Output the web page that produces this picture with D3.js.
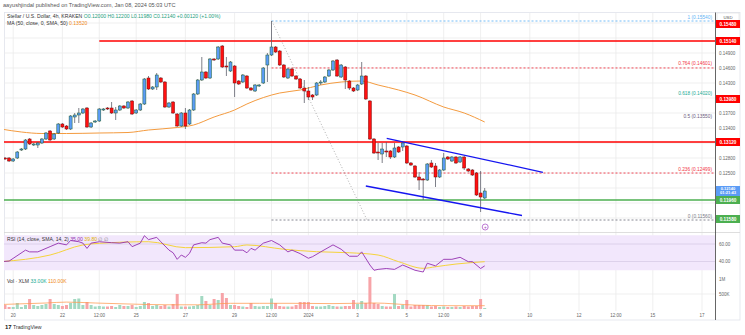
<!DOCTYPE html>
<html><head><meta charset="utf-8">
<script src="https://cdn.jsdelivr.net/npm/d3@7/dist/d3.min.js"></script>
<style>html,body{margin:0;padding:0;background:#fff;overflow:hidden}svg{display:block}</style>
</head><body><svg id="chart" width="745" height="335"></svg>
<script>
// ---------- DATA (4h candles, index 0 = Dec 19 2023 16:00 UTC) ----------
const opens = [0.1280,0.1280,0.1274,0.1280,0.1296,0.1298,0.1318,0.1306,0.1306,0.1310,
 0.1318,0.1334,0.1318,0.1330,0.1348,0.1344,0.1338,0.1362,0.1366,0.1370,
 0.1380,0.1342,0.1352,0.1354,0.1376,0.1380,0.1380,0.1370,0.1376,0.1384,
 0.1380,0.1394,0.1370,0.1376,0.1388,0.1440,0.1418,0.1422,0.1440,0.1432,
 0.1382,0.1392,0.1368,0.1344,0.1370,0.1348,0.1376,0.1408,0.1436,0.1452,
 0.1440,0.1478,0.1478,0.1504,0.1464,0.1454,0.1464,0.1434,0.1432,0.1444,
 0.1420,0.1414,0.1424,0.1430,0.1466,0.1486,0.1502,0.1494,0.1466,0.1440,
 0.1458,0.1444,0.1438,0.1420,0.1414,0.1406,0.1406,0.1430,0.1432,0.1444,
 0.1456,0.1476,0.1442,0.1462,0.1434,0.1420,0.1416,0.1428,0.1444,0.1394,
 0.1318,0.1292,0.1288,0.1294,0.1294,0.1282,0.1302,0.1302,0.1304,0.1270,
 0.1264,0.1242,0.1238,0.1236,0.1270,0.1264,0.1242,0.1256,0.1282,0.1274,
 0.1282,0.1272,0.1282,0.1258,0.1256,0.1250,0.1210,0.1200];
const highs = [0.1282,0.1282,0.1280,0.1294,0.1300,0.1318,0.1320,0.1310,0.1312,0.1320,
 0.1332,0.1336,0.1330,0.1350,0.1350,0.1346,0.1366,0.1370,0.1380,0.1380,
 0.1382,0.1352,0.1356,0.1380,0.1380,0.1382,0.1392,0.1382,0.1386,0.1386,
 0.1394,0.1396,0.1378,0.1390,0.1440,0.1444,0.1424,0.1450,0.1442,0.1434,
 0.1392,0.1394,0.1370,0.1372,0.1380,0.1378,0.1410,0.1438,0.1482,0.1454,
 0.1480,0.1480,0.1504,0.1506,0.1482,0.1474,0.1466,0.1436,0.1448,0.1446,
 0.1422,0.1428,0.1428,0.1462,0.1490,0.1554,0.1504,0.1496,0.1468,0.1460,
 0.1460,0.1446,0.1440,0.1436,0.1422,0.1408,0.1432,0.1436,0.1444,0.1458,
 0.1476,0.1478,0.1468,0.1464,0.1436,0.1422,0.1428,0.1472,0.1446,0.1396,
 0.1320,0.1310,0.1310,0.1312,0.1296,0.1310,0.1304,0.1312,0.1306,0.1272,
 0.1266,0.1252,0.1240,0.1270,0.1276,0.1270,0.1258,0.1290,0.1284,0.1284,
 0.1284,0.1284,0.1284,0.1260,0.1258,0.1252,0.1254,0.1220];
const lows = [0.1276,0.1272,0.1272,0.1278,0.1294,0.1296,0.1306,0.1304,0.1300,0.1308,
 0.1316,0.1314,0.1316,0.1328,0.1340,0.1336,0.1336,0.1350,0.1350,0.1368,
 0.1340,0.1340,0.1350,0.1352,0.1374,0.1376,0.1368,0.1356,0.1374,0.1378,
 0.1378,0.1366,0.1368,0.1374,0.1386,0.1416,0.1416,0.1416,0.1430,0.1380,
 0.1380,0.1368,0.1342,0.1342,0.1338,0.1346,0.1374,0.1406,0.1434,0.1438,
 0.1438,0.1474,0.1476,0.1460,0.1444,0.1452,0.1402,0.1426,0.1430,0.1418,
 0.1414,0.1412,0.1422,0.1428,0.1432,0.1484,0.1490,0.1464,0.1440,0.1438,
 0.1442,0.1436,0.1418,0.1390,0.1396,0.1396,0.1404,0.1426,0.1430,0.1442,
 0.1454,0.1442,0.1440,0.1418,0.1416,0.1412,0.1414,0.1426,0.1396,0.1316,
 0.1288,0.1276,0.1270,0.1282,0.1278,0.1280,0.1290,0.1294,0.1268,0.1264,
 0.1240,0.1216,0.1196,0.1234,0.1260,0.1222,0.1240,0.1254,0.1276,0.1272,
 0.1268,0.1270,0.1256,0.1252,0.1244,0.1204,0.1172,0.1198];
const closes = [0.1278,0.1274,0.1278,0.1292,0.1298,0.1316,0.1308,0.1308,0.1310,0.1318,
 0.1330,0.1316,0.1328,0.1348,0.1342,0.1338,0.1364,0.1366,0.1370,0.1378,
 0.1342,0.1350,0.1354,0.1378,0.1378,0.1378,0.1370,0.1376,0.1384,0.1380,
 0.1392,0.1368,0.1376,0.1388,0.1438,0.1418,0.1422,0.1446,0.1432,0.1382,
 0.1390,0.1370,0.1344,0.1370,0.1344,0.1376,0.1408,0.1436,0.1452,0.1440,
 0.1478,0.1476,0.1502,0.1462,0.1462,0.1472,0.1430,0.1428,0.1446,0.1420,
 0.1416,0.1426,0.1426,0.1460,0.1486,0.1502,0.1492,0.1466,0.1442,0.1458,
 0.1444,0.1438,0.1420,0.1414,0.1402,0.1402,0.1430,0.1432,0.1442,0.1456,
 0.1474,0.1444,0.1466,0.1436,0.1420,0.1414,0.1426,0.1444,0.1398,0.1318,
 0.1290,0.1290,0.1298,0.1292,0.1282,0.1300,0.1292,0.1310,0.1270,0.1266,
 0.1242,0.1236,0.1236,0.1268,0.1262,0.1242,0.1256,0.1280,0.1278,0.1282,
 0.1270,0.1282,0.1260,0.1254,0.1246,0.1206,0.1202,0.1214];
const volumesK = [133,67,67,200,67,133,333,133,100,133,
 167,333,167,133,100,133,200,333,350,133,
 233,133,83,100,83,83,100,67,133,100,
 100,133,67,100,233,200,100,133,100,133,
 83,167,500,83,83,83,100,133,433,267,
 133,333,300,533,367,133,133,100,83,67,
 200,100,83,100,100,350,200,100,83,83,
 83,133,233,233,233,100,83,83,100,133,
 100,83,83,100,100,300,167,267,200,1067,
 200,167,100,83,83,500,100,133,300,83,
 133,133,133,133,83,100,67,83,67,67,
 83,67,100,83,100,100,333,33];
// MA(50) (candle index, value)
const maIdx = [-1,4,9,15,23,30,35,42,46,51,56,59,67,72,77,82,87,91,96,100,107,112,117];
const maVal = [0.1338,0.1332,0.1329,0.1329,0.1330,0.1331,0.1336,0.1341,0.1346,0.1362,0.1376,0.1388,0.1410,0.1416,0.1426,0.1432,0.1434,0.1426,0.1416,0.1406,0.1382,0.1370,0.1352];
// RSI(14) and its SMA
const rsiIdx = [-1,1,5,6,8,10,11,13,15,16,18,19,20,21,23,26,28,30,31,33,34,35,37,38,40,41,42,43,44,45,46,48,49,50,52,53,55,56,58,59,60,61,63,65,67,69,70,72,74,75,77,80,82,84,86,87,89,90,91,93,95,97,99,100,102,103,105,107,109,111,113,114,116,117];
const rsiVal = [39.8,40.5,53,51,51,55,57,61,59,64,62.6,61,55,61,62.6,61.5,61,62.6,57,61,69.5,65,67.6,62.6,53,50,42.5,47.4,44.8,49.3,59,61.5,61,65,67.6,61,59,53,53,50,55,53,61,64,59,51,53,49,43.7,45.5,51,59,54,46,46,51,36,30,31,32,31,36,32,30,28,38,35,42.5,42.5,44.8,39.8,39.8,32,35];
const rsiMaIdx = [-1,11,19,23,35,44,56,59,68,76,84,91,96,102,105,110,117];
const rsiMaVal = [39.8,47.4,58.9,60.8,62.6,55.8,56.9,58.9,54,51.2,50,47.4,39.8,32.2,34,37.1,39.8];
// Volume SMA (K)
const volMaIdx = [-1,10,15,22,30,40,47,55,62,70,80,90,100,108,117];
const volMaVal = [150,200,230,200,167,140,140,190,190,190,180,200,130,110,110];
// x-axis ticks
const tickIdx = [2,14,23,32,44,56,65,74,86,98,107,116,128,140,149,158,170];
const tickLabels = ["20","22","12:00","25","27","29","12:00","2024","3","5","12:00","8","10","12","12:00","15","17"];
// price axis ticks
const priceTicks = [0.1160,0.1190,0.1220,0.1250,0.1280,0.1310,0.1340,0.1370,0.1400,0.1430,0.1460,0.1490,0.1520,0.1550];
// Fibonacci retracement
const fibLevels = [1,0.764,0.618,0.5,0.236,0];
const fibHigh = 0.1554, fibLow = 0.1156, fibStartIdx = 65;
// horizontal levels
const resistance = [0.1514, 0.1312];
const resistanceStartIdx = [23, -2];
const support = [0.1196];
// channel lines [startIdx, startPrice, endIdx, endPrice]
const channelUpper = [93.1, 0.13194, 131.2, 0.12514];
const channelLower = [88.0, 0.1224, 126.1, 0.1165];
const trendDiag = [65.1, 0.1554, 88.3, 0.1156];
// axis tags
const tagPrices = [0.1548, 0.1514, 0.1398, 0.1312, 0.1196, 0.1158];

// ---------- DRAW ----------
const svg = d3.select('#chart').style('font-family','"Liberation Sans", Arial, sans-serif');
const PL=4, PR=715, AX=740, PT=13, MB=232, VB=311, XB=320, step=4.1;
const x = d3.scaleLinear().domain([0,(PR-5)/step]).range([5,PR]);
const y = d3.scaleLinear().domain([0.1132,0.1572]).range([MB,12]);
const yR = d3.scaleLinear().domain([30,70]).range([270.25,235.25]);
const yV = d3.scaleLinear().domain([0,1000]).range([309,279]);
const data = opens.map((o,i)=>({i,o,h:highs[i],l:lows[i],c:closes[i],v:volumesK[i],up:closes[i]>=o}));
const f5 = v=>v.toFixed(5);

svg.append('rect').attr('width',745).attr('height',335).attr('fill','#fff');
const defs = svg.append('defs');
defs.append('clipPath').attr('id','mainClip').append('rect').attr('x',PL).attr('y',PT).attr('width',PR-PL).attr('height',MB-PT);
defs.append('clipPath').attr('id','lowClip').append('rect').attr('x',PL).attr('y',MB).attr('width',PR-PL).attr('height',VB-MB);

// header
svg.append('text').attr('x',3).attr('y',7).attr('font-size',5.6).attr('fill','#555')
  .text('aayushjindal published on TradingView.com, Jan 08, 2024 05:03 UTC');

// frame
svg.append('rect').attr('x',PL+0.5).attr('y',PT-0.5).attr('width',AX-PL-0.5).attr('height',XB-PT+0.5)
  .attr('fill','none').attr('stroke','#e0e3eb').attr('stroke-width',0.8);

// grids
const grid = svg.append('g').attr('stroke','#ebebeb').attr('stroke-width',0.8);
priceTicks.forEach(p=>grid.append('line').attr('x1',PL).attr('x2',PR).attr('y1',y(p)).attr('y2',y(p)));
tickIdx.forEach(t=>grid.append('line').attr('x1',x(t)).attr('x2',x(t)).attr('y1',PT).attr('y2',VB));
grid.append('line').attr('x1',PL).attr('x2',PR).attr('y1',yV(500)).attr('y2',yV(500));

// RSI band
svg.append('rect').attr('x',PL).attr('width',PR-PL).attr('y',yR(70)).attr('height',yR(30)-yR(70)).attr('fill','#f2e7fc');
[60,40].forEach(v=>svg.append('line').attr('x1',PL).attr('x2',PR).attr('y1',yR(v)).attr('y2',yR(v)).attr('stroke','#d7cbe6').attr('stroke-width',0.8));

// separator
svg.append('line').attr('x1',PL).attr('x2',AX).attr('y1',MB+0.5).attr('y2',MB+0.5).attr('stroke','#d6d6d6').attr('stroke-width',0.8);

const main = svg.append('g').attr('clip-path','url(#mainClip)');

// horizontal levels
resistance.forEach((p,k)=>main.append('line').attr('x1',x(resistanceStartIdx[k])).attr('x2',PR).attr('y1',y(p)).attr('y2',y(p)).attr('stroke','#f00').attr('stroke-width',1.3));
support.forEach(p=>main.append('line').attr('x1',PL).attr('x2',PR).attr('y1',y(p)).attr('y2',y(p)).attr('stroke','#4caf50').attr('stroke-width',1.3));

// fib
const fibColors = {1:'#64b5f6',0.764:'#f23645',0.618:'#22ab94',0.5:'#6a5a7c',0.236:'#f23645',0:'#787b86'};
const fibLine = {1:true,0.764:true,0.618:false,0.5:false,0.236:true,0:true};
fibLevels.forEach(l=>{
  const p = fibLow + (fibHigh-fibLow)*l;
  if (fibLine[l]) main.append('line').attr('x1',x(fibStartIdx)).attr('x2',PR).attr('y1',y(p)).attr('y2',y(p))
     .attr('stroke',fibColors[l]).attr('stroke-width',0.9).attr('stroke-dasharray','2,2');
  svg.append('text').attr('x',PR-3).attr('y',y(p)-2.5).attr('text-anchor','end').attr('font-size',4.8)
     .attr('fill',fibColors[l]).text(`${l} (${p.toFixed(5)})`);
});
// diagonal dotted
main.append('line').attr('x1',x(trendDiag[0])).attr('y1',y(trendDiag[1])).attr('x2',x(trendDiag[2])).attr('y2',y(trendDiag[3]))
  .attr('stroke','#9a9a9a').attr('stroke-width',0.8).attr('stroke-dasharray','1,2');

// MA
const lineGen = (xs,ys)=>d3.line().x(d=>xs(d[0])).y(d=>ys(d[1])).curve(d3.curveMonotoneX);
main.append('path').datum(maIdx.map((d,k)=>[d,maVal[k]])).attr('d',lineGen(x,y)).attr('fill','none')
  .attr('stroke','#f49b3f').attr('stroke-width',1);

// candles
const cg = main.append('g');
cg.selectAll('line.w').data(data).join('line').attr('x1',d=>x(d.i)).attr('x2',d=>x(d.i))
  .attr('y1',d=>y(d.h)).attr('y2',d=>y(d.l)).attr('stroke','#5d606b').attr('stroke-width',0.8);
cg.selectAll('rect.b').data(data).join('rect')
  .attr('x',d=>x(d.i)-1.5).attr('width',3)
  .attr('y',d=>y(Math.max(d.o,d.c))).attr('height',d=>Math.max(0.8,Math.abs(y(d.o)-y(d.c))))
  .attr('fill',d=>d.up?'#5b9cf6':'#ff1010').attr('stroke',d=>d.up?'#1d5c2e':'#7a0a0a').attr('stroke-width',0.5);

// channel
[channelUpper,channelLower].forEach(c=>main.append('line').attr('x1',x(c[0])).attr('y1',y(c[1])).attr('x2',x(c[2])).attr('y2',y(c[3]))
  .attr('stroke','#1515f0').attr('stroke-width',1.3));

// marker circle
const lastI = data.length-1;
svg.append('circle').attr('cx',x(lastI)+0.5).attr('cy',MB-5).attr('r',3).attr('fill','#fff').attr('stroke','#a040c0').attr('stroke-width',0.7);
svg.append('text').attr('x',x(lastI)+0.5).attr('y',MB-3.3).attr('text-anchor','middle').attr('font-size',4.5).attr('fill','#a040c0').text('+');

// lower panes
const low = svg.append('g').attr('clip-path','url(#lowClip)');
low.append('path').datum(rsiMaIdx.map((d,k)=>[d,rsiMaVal[k]])).attr('d',lineGen(x,yR)).attr('fill','none').attr('stroke','#f5d33b').attr('stroke-width',1);
low.append('path').datum(rsiIdx.map((d,k)=>[d,rsiVal[k]])).attr('d',d3.line().x(d=>x(d[0])).y(d=>yR(d[1]))).attr('fill','none').attr('stroke','#9430b0').attr('stroke-width',0.9);
low.selectAll('rect.v').data(data).join('rect').attr('x',d=>x(d.i)-1.5).attr('width',3)
  .attr('y',d=>yV(d.v)).attr('height',d=>yV(0)-yV(d.v)).attr('fill',d=>d.up?'#a3d9c2':'#f7a4a8');
low.append('path').datum(volMaIdx.map((d,k)=>[d,volMaVal[k]])).attr('d',lineGen(x,yV)).attr('fill','none').attr('stroke','#ff9a50').attr('stroke-width',0.9).attr('opacity',0.85);

// legends
function legend(yy, parts, fs){
  const t = svg.append('text').attr('x',7).attr('y',yy).attr('font-size',fs||5.1);
  parts.forEach(p=>t.append('tspan').attr('fill',p[1]).text(p[0]));
}
const last = data[lastI], prev = data[lastI-1];
const chg = last.c-prev.c;
legend(18,[['Stellar / U.S. Dollar, 4h, KRAKEN  ','#333'],
  [`O${f5(last.o)}  H${f5(last.h)}  L${f5(last.l)}  C${f5(last.c)}  ${chg>=0?'+':''}${f5(chg)} (${chg>=0?'+':''}${(chg/prev.c*100).toFixed(2)}%)`,'#1e9e7e']]);
legend(25,[['MA (50, close, 0, SMA, 50)  ','#333'],[f5(maVal[maVal.length-1]),'#f08a1c']]);
legend(241,[['RSI (14, close, SMA, 14, 2)  ','#333'],[rsiVal[rsiVal.length-1].toFixed(2)+'  ','#9430b0'],[rsiMaVal[rsiMaVal.length-1].toFixed(2)+'  ','#e0b400'],['\u2205  \u2205','#888']]);
legend(283,[['Vol \u00b7 XLM  ','#333'],[volumesK[lastI].toFixed(2)+'K  ','#22ab94'],[volMaVal[volMaVal.length-1].toFixed(2)+'K','#f08a1c']]);

// x axis labels
tickIdx.forEach((t,k)=>svg.append('text').attr('x',x(t)).attr('y',317).attr('text-anchor','middle').attr('font-size',4.5).attr('fill','#666').text(tickLabels[k]));

// tags layout
const tagCols = ['#f00','#f00','#f00','#f00','#4caf50','#4caf50'];
let tags = tagPrices.map((p,k)=>({yc:y(p),h:8,col:tagCols[k],lines:[f5(p)]}));
tags.push({yc:y(last.c),h:10,col:'#5b9cf6',lines:[f5(last.c),'01:21:43']});
tags.sort((a,b)=>a.yc-b.yc);
for(let k=1;k<tags.length;k++){const pr=tags[k-1];const lim=pr.yc+pr.h/2+tags[k].h/2;if(tags[k].yc<lim)tags[k].yc=lim;}

// right axis
svg.append('line').attr('x1',PR+0.5).attr('x2',PR+0.5).attr('y1',PT-0.5).attr('y2',XB).attr('stroke','#555').attr('stroke-width',0.9);
const freeOfTags = yy => tags.every(t=>Math.abs(t.yc-yy) > t.h/2+2.6) && yy > PT+12;
priceTicks.forEach(p=>{ if(freeOfTags(y(p))) svg.append('text').attr('x',PR+4).attr('y',y(p)+1.6).attr('font-size',4.5).attr('fill','#666').text(p.toFixed(5)); });
[60,40].forEach(v=>svg.append('text').attr('x',PR+4).attr('y',yR(v)+1.6).attr('font-size',4.5).attr('fill','#666').text(v.toFixed(2)));
[[1000,'1M'],[500,'500K']].forEach(v=>svg.append('text').attr('x',PR+4).attr('y',yV(v[0])+1.6).attr('font-size',4.5).attr('fill','#666').text(v[1]));
svg.append('rect').attr('x',PR+2).attr('y',PT).attr('width',22).attr('height',7.5).attr('fill','#fff').attr('stroke','#ddd').attr('stroke-width',0.6);
svg.append('text').attr('x',PR+13).attr('y',PT+5.5).attr('text-anchor','middle').attr('font-size',4.3).attr('fill','#555').text('USD');

// tags
function tag(yc,h,col,lines){
  svg.append('rect').attr('x',PR+1).attr('y',yc-h/2).attr('width',24).attr('height',h).attr('fill',col);
  lines.forEach((s,k)=>svg.append('text').attr('x',PR+13).attr('y',yc-h/2+(lines.length===1?h/2+1.7:3.9+k*4.2))
    .attr('text-anchor','middle').attr('font-size',lines.length===1?4.7:4.0).attr('font-weight','bold').attr('fill','#fff').text(s));
}
tags.forEach(t=>tag(t.yc,t.h,t.col,t.lines));

// logo
svg.append('text').attr('x',5).attr('y',329).attr('font-size',6).attr('font-weight','bold').attr('fill','#131722').text('17');
svg.append('text').attr('x',13).attr('y',329).attr('font-size',5.2).attr('fill','#333').text('TradingView');
</script></body></html>
